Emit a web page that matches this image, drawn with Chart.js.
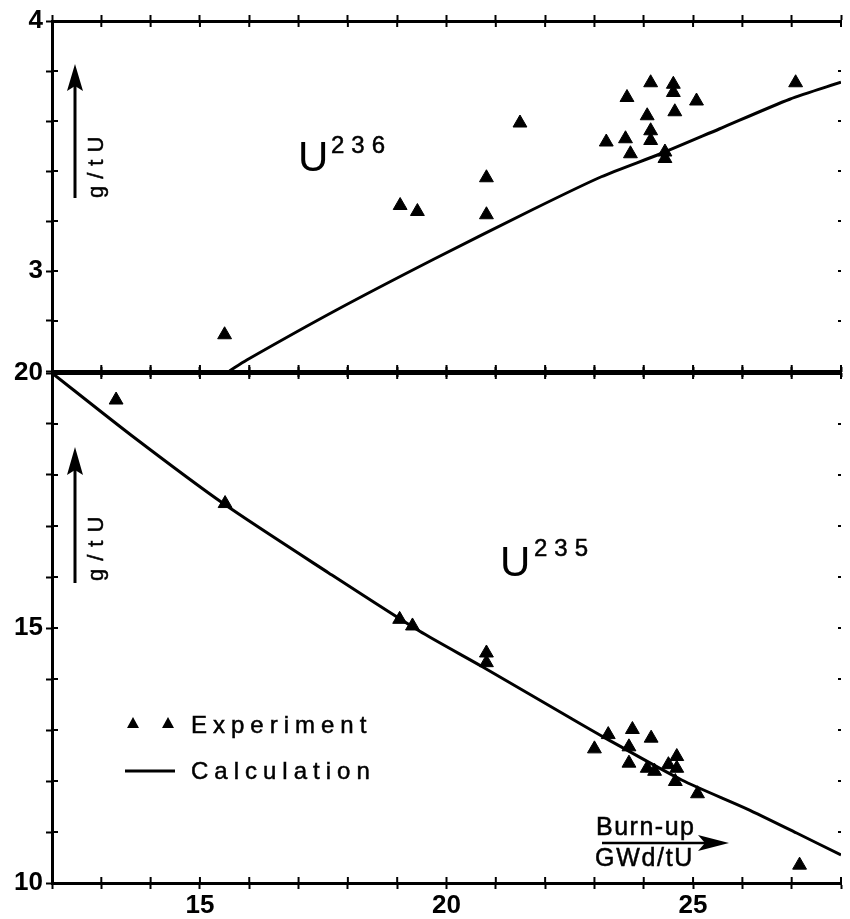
<!DOCTYPE html>
<html>
<head>
<meta charset="utf-8">
<script src="https://cdn.jsdelivr.net/npm/chart.js@4.4.1/dist/chart.umd.min.js"></script>
<style>
html,body{margin:0;padding:0;background:#fff;}
#wrap{position:relative;width:850px;height:919px;overflow:hidden;background:#fff;}
canvas{position:absolute;left:0;}
.t{position:absolute;font-family:"Liberation Sans",Arial,Helvetica,sans-serif;color:#000;line-height:1;white-space:nowrap;}
.s{-webkit-text-stroke:0.5px #000;}
.rot{transform-origin:0 0;transform:rotate(-90deg);}
</style>
</head>
<body>
<div id="wrap">
  <canvas id="c1" width="850" height="380" style="top:0px"></canvas>
  <canvas id="c2" width="850" height="559" style="top:360px"></canvas>

  <svg width="850" height="919" style="position:absolute;left:0;top:0;pointer-events:none">
    <g stroke="#000" fill="#000">
      <line x1="75" y1="198" x2="75" y2="84" stroke-width="3"/>
      <polygon points="75,64 83,91 75,86 67,91" stroke="none"/>
      <line x1="75" y1="583" x2="75" y2="468" stroke-width="3"/>
      <polygon points="75,447 83,475 75,470 67,475" stroke="none"/>
      <polygon points="133,717 139,728 127,728" stroke="none"/>
      <polygon points="168,717 174,728 162,728" stroke="none"/>
      <line x1="125" y1="771" x2="175" y2="771" stroke-width="3"/>
      <line x1="602" y1="843" x2="712" y2="843" stroke-width="2.5"/>
      <polygon points="729,843 698,835 705,843 698,851" stroke="none"/>
    </g>
  </svg>

  <div class="t" style="left:298px;top:136px;font-size:42px;">U</div>
  <div class="t s" style="left:331px;top:133px;font-size:24px;letter-spacing:7px;">236</div>
  <div class="t" style="left:500px;top:541px;font-size:42px;">U</div>
  <div class="t s" style="left:534px;top:536px;font-size:24px;letter-spacing:7px;">235</div>

  <div class="t s rot" style="left:85px;top:198px;font-size:22px;letter-spacing:7px;">g/tU</div>
  <div class="t s rot" style="left:85px;top:581px;font-size:22px;letter-spacing:8px;">g/tU</div>

  <div class="t s" style="left:191px;top:713px;font-size:24px;letter-spacing:6px;">Experiment</div>
  <div class="t s" style="left:191px;top:759px;font-size:24px;letter-spacing:6px;">Calculation</div>

  <div class="t s" style="left:596px;top:814px;font-size:25px;letter-spacing:1.5px;">Burn-up</div>
  <div class="t s" style="left:595px;top:845px;font-size:25px;letter-spacing:1.7px;">GWd/tU</div>
</div>

<script>
// ---------- data ----------
const xMin = 12, xMax = 28;
const xTickLabels = [15, 20, 25];

const u236YMin = 2.6, u236YMax = 4;
const u236YTickLabels = [3, 4];
const u236ExpX = [15.50, 19.06, 19.41, 20.81, 20.81, 21.49, 23.24, 23.66, 23.63, 23.73, 24.14, 24.07, 24.14, 24.14, 24.60, 24.60, 24.63, 24.43, 24.43, 25.07, 27.08];
const u236ExpY = [2.745, 3.262, 3.238, 3.373, 3.225, 3.592, 3.516, 3.694, 3.529, 3.469, 3.753, 3.621, 3.561, 3.522, 3.747, 3.714, 3.637, 3.476, 3.450, 3.680, 3.753];
const u236CalcX = [15.6, 15.95, 17.75, 19.74, 21.74, 23.14, 24.34, 25.53, 26.96, 28.0];
const u236CalcY = [2.600, 2.644, 2.842, 3.047, 3.245, 3.377, 3.469, 3.568, 3.687, 3.755];

const u235YMin = 10, u235YMax = 20;
const u235YTickLabels = [10, 15, 20];
const u235ExpX = [13.30, 15.51, 19.05, 19.31, 20.81, 20.81, 23.00, 23.28, 23.77, 24.15, 23.70, 23.70, 24.07, 24.22, 24.50, 24.67, 24.67, 24.64, 25.09, 27.16];
const u235ExpY = [19.47, 17.44, 15.17, 15.04, 14.51, 14.32, 12.63, 12.91, 13.01, 12.84, 12.67, 12.35, 12.25, 12.19, 12.32, 12.48, 12.25, 11.99, 11.75, 10.35];
const u235CalcX = [12.0, 13.62, 15.49, 17.61, 19.45, 20.71, 22.54, 23.17, 24.77, 26.1, 27.1, 28.0];
const u235CalcY = [20.0, 18.77, 17.43, 16.08, 14.94, 14.25, 13.22, 12.87, 12.02, 11.45, 10.98, 10.55];

// ---------- helpers ----------
const FONT = '"Liberation Sans", Arial, Helvetica, sans-serif';
function pts(xs, ys) { return xs.map((x, i) => ({ x: x, y: ys[i] })); }
function zeroPad(s) { s.paddingLeft = 0; s.paddingRight = 0; s.paddingTop = 0; s.paddingBottom = 0; }
function isInt(v) { return Math.abs(v - Math.round(v)) < 1e-6; }

function xScale(pos, h, labels) {
  return {
    type: 'linear', position: pos, min: xMin, max: xMax,
    afterFit(s) { s.height = h; zeroPad(s); },
    border: { display: true, color: '#000', width: 3 },
    grid: { drawOnChartArea: false, drawTicks: true, tickLength: 6, tickWidth: 2, color: '#000' },
    ticks: {
      stepSize: 1, autoSkip: false, maxRotation: 0, minRotation: 0, padding: 1, color: '#000',
      font: { family: FONT, size: 26, weight: 'bold' },
      callback: v => (labels && isInt(v) && labels.includes(Math.round(v))) ? String(Math.round(v)) : ''
    }
  };
}
function yScale(min, max, step, labels) {
  return {
    type: 'linear', position: 'left', min: min, max: max,
    afterFit(s) { s.width = 52; zeroPad(s); },
    border: { display: true, color: '#000', width: 3 },
    grid: { drawOnChartArea: false, drawTicks: true, tickLength: 6, tickWidth: 2, color: '#000' },
    ticks: {
      stepSize: step, autoSkip: false, padding: 3, color: '#000',
      font: { family: FONT, size: 26, weight: 'bold' },
      callback: v => (isInt(v) && labels.includes(Math.round(v))) ? String(Math.round(v)) : ''
    }
  };
}

const innerTicks = {
  id: 'innerTicks',
  afterDraw(chart) {
    const ctx = chart.ctx, a = chart.chartArea;
    ctx.save();
    ctx.strokeStyle = '#000';
    ctx.lineWidth = 2;
    Object.values(chart.scales).forEach(s => {
      s.ticks.forEach(t => {
        const p = s.getPixelForValue(t.value);
        ctx.beginPath();
        if (s.position === 'left') {
          ctx.moveTo(a.left, p); ctx.lineTo(a.left + 6, p);
          ctx.moveTo(a.right, p); ctx.lineTo(a.right - 3, p);
        } else if (s.position === 'top') {
          ctx.moveTo(p, a.top); ctx.lineTo(p, a.top + 6);
        } else if (s.position === 'bottom') {
          ctx.moveTo(p, a.bottom); ctx.lineTo(p, a.bottom - 6);
        }
        ctx.stroke();
      });
    });
    ctx.restore();
  }
};

function datasets(ex, ey, cx, cy, xId) {
  return [
    {
      label: 'Experiment', data: pts(ex, ey), xAxisID: xId,
      pointStyle: 'triangle', pointRadius: 8, pointHoverRadius: 8,
      backgroundColor: '#000', borderColor: '#000', borderWidth: 1, showLine: false
    },
    {
      label: 'Calculation', data: pts(cx, cy), xAxisID: xId,
      showLine: true, pointRadius: 0, borderColor: '#000', borderWidth: 3,
      tension: 0.25, fill: false
    }
  ];
}

const common = {
  responsive: false, animation: false,
  layout: { padding: 0 },
  plugins: { legend: { display: false }, tooltip: { enabled: false } }
};

new Chart(document.getElementById('c1'), {
  type: 'scatter',
  data: { datasets: datasets(u236ExpX, u236ExpY, u236CalcX, u236CalcY, 'x') },
  options: Object.assign({}, common, {
    scales: {
      x: xScale('top', 21, null),
      x2: xScale('bottom', 7, null),
      y: yScale(u236YMin, u236YMax, 0.2, u236YTickLabels)
    }
  }),
  plugins: [innerTicks]
});

new Chart(document.getElementById('c2'), {
  type: 'scatter',
  data: { datasets: datasets(u235ExpX, u235ExpY, u235CalcX, u235CalcY, 'x') },
  options: Object.assign({}, common, {
    scales: {
      x: xScale('bottom', 36, xTickLabels),
      x2: xScale('top', 13, null),
      y: yScale(u235YMin, u235YMax, 1, u235YTickLabels)
    }
  }),
  plugins: [innerTicks]
});
</script>
</body>
</html>
